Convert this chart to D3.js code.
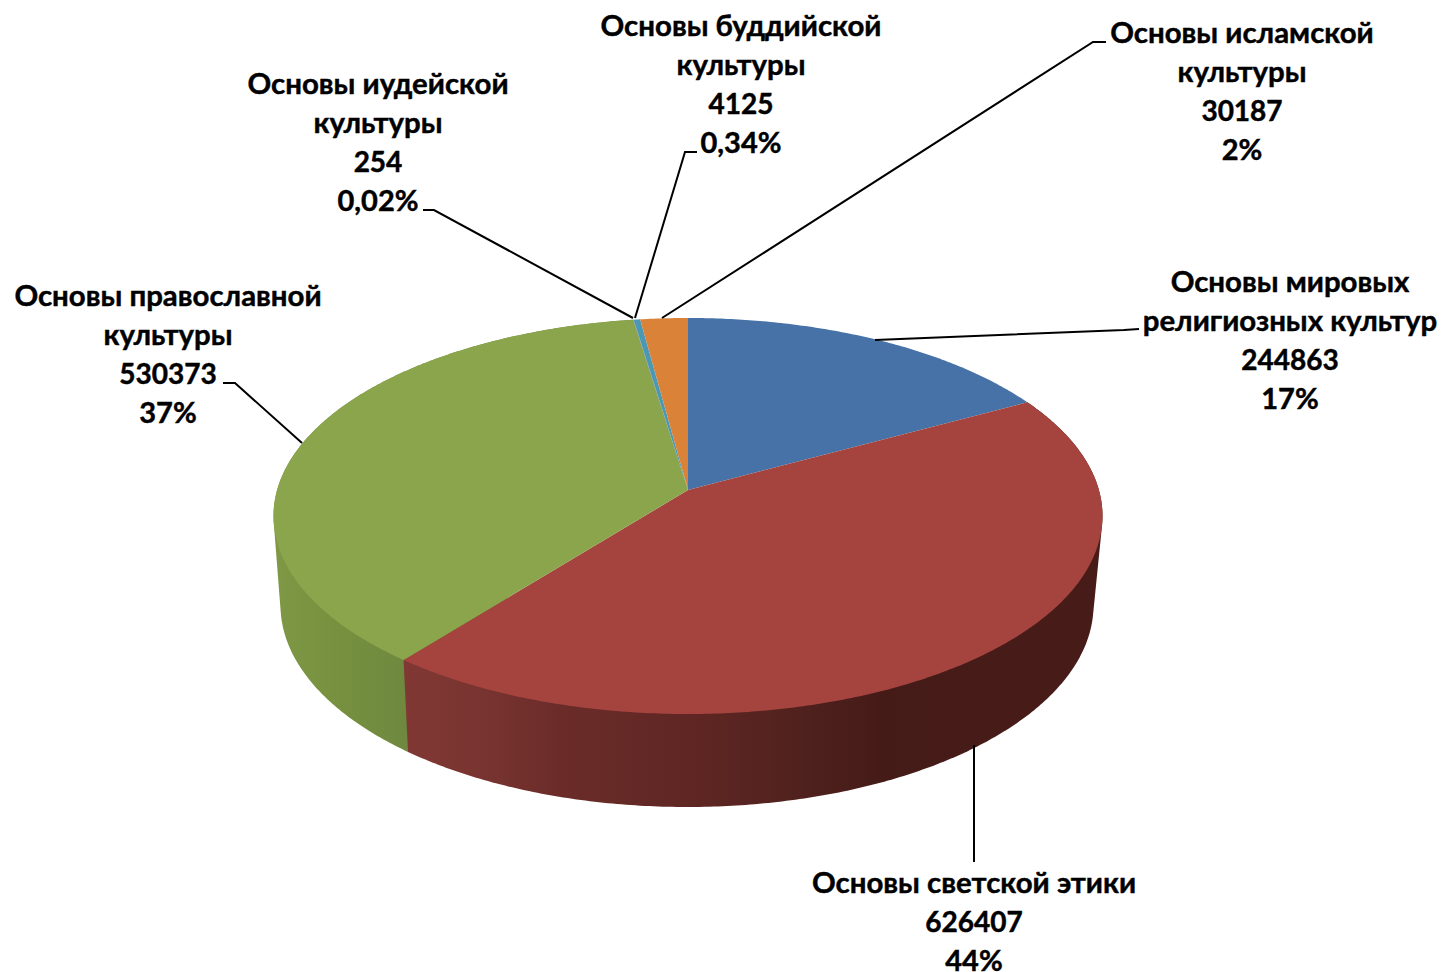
<!DOCTYPE html>
<html>
<head>
<meta charset="utf-8">
<script src="https://cdnjs.cloudflare.com/ajax/libs/d3/7.8.5/d3.min.js"></script>
<style>
  html, body { margin: 0; padding: 0; background: #fff; }
  svg { display: block; }
  text { font-family: Lato, "Open Sans", sans-serif; font-weight: 700; fill: #000; stroke: #000; stroke-width: 0.45px; }
</style>
</head>
<body>
<svg id="chart" width="1441" height="972"></svg>
<script>
// -- chart data -- //
const categories = [
    'Основы мировых религиозных культур',
    'Основы светской этики',
    'Основы православной культуры',
    'Основы иудейской культуры',
    'Основы буддийской культуры',
    'Основы исламской культуры'
];
const counts = [244863, 626407, 530373, 254, 4125, 30187];
const percents = ['17%', '44%', '37%', '0,02%', '0,34%', '2%'];
const labelLines = [
    ['Основы мировых', 'религиозных культур'],
    ['Основы светской этики'],
    ['Основы православной', 'культуры'],
    ['Основы иудейской', 'культуры'],
    ['Основы буддийской', 'культуры'],
    ['Основы исламской', 'культуры']
];
const topColors = ['#4672a7', '#a5443f', '#8ba54c', '#7d5fa0', '#4a98b3', '#da8238'];

// label placement: centre x, centre y of first line
const labelX = [1290, 974, 168, 378, 741, 1242];
const labelY = [282, 883, 296, 84, 26, 33];
const lineStep = 39;

// leader lines, one polyline per slice
const leaders = [
    [[875, 340], [1124, 330], [1139, 329]],
    [[974, 745], [974, 862]],
    [[302, 443], [235, 383], [223, 383]],
    [[633, 318], [434, 210], [423, 210]],
    [[635, 318], [685, 152], [697, 152]],
    [[662, 318], [1093, 42], [1106, 42]]
];

// -- pie projection: a circle seen in perspective -- //
const persp = 0.1313;
const topRim = { cx: 688, cy: 490, a: 410.9, b: 194.6 };
const bottomRim = { cx: 687, cy: 578.5, a: 403, b: 198.5 };

const project = (rim, angle) => {
    const u = Math.sin(angle), v = Math.cos(angle);
    const w = 1 + persp * v;
    return [rim.cx + rim.a * u / w, rim.cy - rim.b * v / w];
};

const arcPoints = (rim, start, end) => {
    const n = Math.max(2, Math.ceil((end - start) / 0.01));
    return d3.range(n + 1).map(i => project(rim, start + (end - start) * i / n));
};

const line = d3.line();
const svg = d3.select('#chart');
const slices = d3.pie().sort(null)(counts);

// -- side shading -- //
const defs = svg.append('defs');
const sideStops = {
    1: [[404, '#813834'], [470, '#7a3531'], [560, '#6b2c29'], [700, '#5e2623'], [800, '#50211e'], [880, '#451b18'], [1100, '#471b18']],
    2: [[273, '#7f9846'], [340, '#76903f'], [408, '#6e893f']]
};
Object.entries(sideStops).forEach(([i, stops]) => {
    const x0 = stops[0][0], x1 = stops[stops.length - 1][0];
    const grad = defs.append('linearGradient')
        .attr('id', 'side' + i)
        .attr('gradientUnits', 'userSpaceOnUse')
        .attr('x1', x0).attr('x2', x1).attr('y1', 0).attr('y2', 0);
    grad.selectAll('stop').data(stops).enter().append('stop')
        .attr('offset', d => (d[0] - x0) / (x1 - x0))
        .attr('stop-color', d => d[1]);
});

// -- sides -- //
// the hull gives the straight edge between the two rims at far left and right
// green goes first so the red side sits over the extra hull area
svg.append('g').selectAll('.side')
    .data(slices.filter(d => sideStops[d.index]).reverse())
    .enter().append('path')
    .attr('class', 'side')
    .attr('d', d => {
        const pts = arcPoints(topRim, d.startAngle, d.endAngle)
            .concat(arcPoints(bottomRim, d.startAngle, d.endAngle));
        return line(d3.polygonHull(pts)) + 'Z';
    })
    .style('fill', d => `url(#side${d.index})`);

// -- top face -- //
svg.append('g').selectAll('.slice')
    .data(slices)
    .enter().append('path')
    .attr('class', 'slice')
    .attr('d', d => {
        const pts = arcPoints(topRim, d.startAngle, d.endAngle);
        return line([[topRim.cx, topRim.cy]].concat(pts)) + 'Z';
    })
    .style('fill', d => topColors[d.index]);

// -- leader lines -- //
svg.append('g').selectAll('.leader')
    .data(leaders)
    .enter().append('path')
    .attr('class', 'leader')
    .attr('d', d => line(d))
    .style('fill', 'none')
    .style('stroke', '#000')
    .style('stroke-width', 2);

// -- labels -- //
const labels = svg.append('g').selectAll('.label')
    .data(categories)
    .enter().append('text')
    .attr('class', 'label')
    .attr('text-anchor', 'middle');

labels.each(function(d, i) {
    const names = labelLines[i].map(t => ({ text: t, size: 29.4 }));
    const rows = names.concat([
        { text: String(counts[i]), size: 28 },
        { text: percents[i], size: 29 }
    ]);
    d3.select(this).selectAll('tspan')
        .data(rows)
        .enter().append('tspan')
        .attr('x', labelX[i])
        .attr('y', (r, j) => labelY[i] + j * lineStep)
        .attr('dy', '0.35em')
        .style('font-size', r => r.size + 'px')
        .text(r => r.text);
});
</script>
</body>
</html>
